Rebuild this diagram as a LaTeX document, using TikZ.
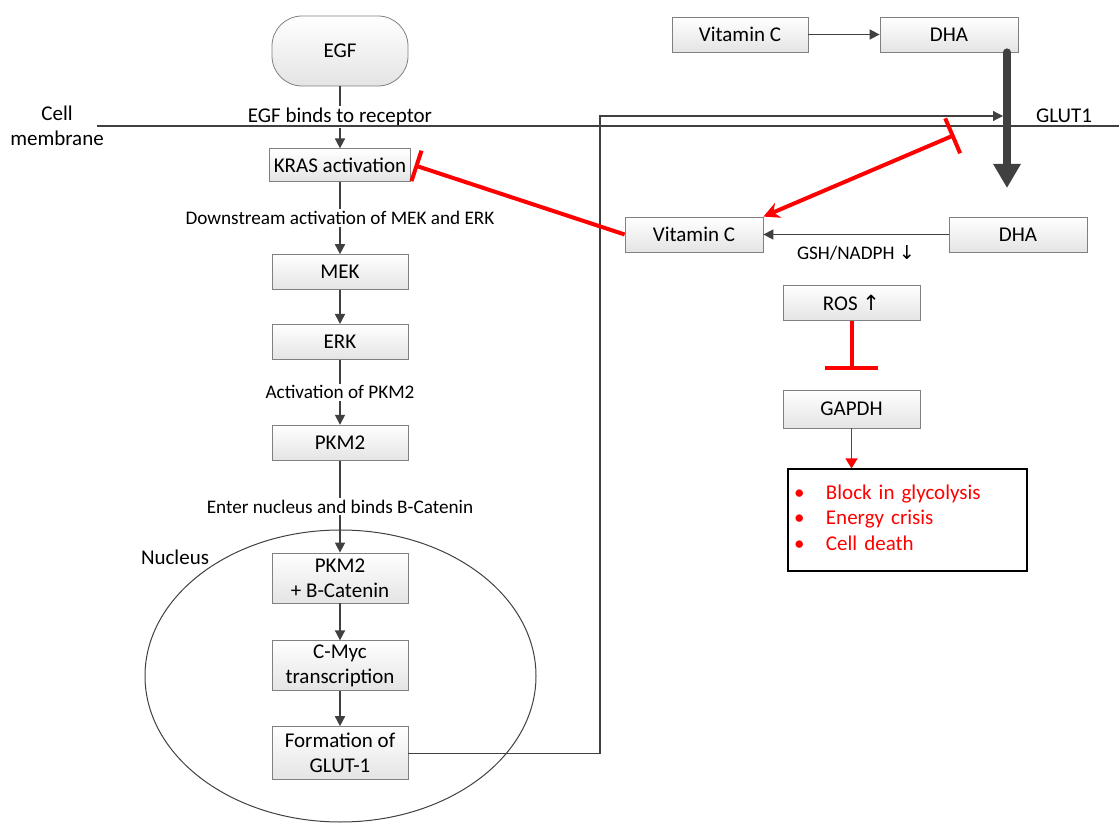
\documentclass[tikz,border=0pt]{standalone}
\usepackage{fontspec}
\setmainfont{Carlito}
\newfontfamily\arrowfont{DejaVu Sans}
\usetikzlibrary{positioning, arrows.meta}
\definecolor{boxEdge}{RGB}{128,128,128}
\definecolor{boxShade}{RGB}{228,228,228}
\definecolor{lineGray}{RGB}{64,64,64}

\begin{document}
\begin{tikzpicture}[
                x=0.5pt, y=0.5pt,
                font=\fontsize{10.5}{12.5}\selectfont,
                box/.style={rectangle, draw=boxEdge, top color=white, bottom color=boxShade, minimum width=68pt, minimum height=17.5pt, inner sep=2pt, align=center},
                tallbox/.style={box, minimum height=25pt, inner ysep=1pt},
                effects/.style={rectangle, draw=black, fill=white, line width=0.6pt, text width=113.5pt, inner xsep=3pt, minimum height=51pt, align=left, text=red},
                arrow/.style={-{Triangle[length=5pt,width=5pt]}, draw=lineGray, line width=0.8pt},
                thinarrow/.style={-{Triangle[length=5pt,width=5pt]}, draw=lineGray, line width=0.6pt},
                bigarrow/.style={-{Triangle[length=12pt,width=13pt]}, draw=lineGray, line width=4pt, line cap=round},
                redarrow/.style={-{Triangle[length=5pt,width=6pt]}, draw=red, line width=0.8pt},
                inhibit/.style={draw=red, line width=2pt},
                lbl/.style={fill=white, inner sep=1pt, font=\fontsize{9.6}{11.5}\selectfont},
                membrane/.style={draw=lineGray, line width=1pt}
            ]
                \useasboundingbox (0,0) rectangle (1119,-823);

                % --- NUCLEUS ---
                \draw[draw=lineGray, line width=0.5pt] (340.5,-676) ellipse [x radius=97.75pt, y radius=73pt];
                \node (nucleuslbl) at (175,-557) {Nucleus};

                % --- SIGNALLING CHAIN (LEFT) ---
                \node[box, rounded corners=15pt, minimum height=35pt] (egf) at (340,-51) {EGF};
                \node[box, minimum width=70pt, minimum height=16.5pt, below=31pt of egf] (kras) {KRAS activation};
                \node[box, below=36pt of kras] (mek) {MEK};
                \node[box, below=17pt of mek] (erk) {ERK};
                \node[box, below=32.5pt of erk] (pkm) {PKM2};
                \node[tallbox, below=46pt of pkm] (pkmcat) {PKM2\\+ B-Catenin};
                \node[tallbox, below=18.5pt of pkmcat] (cmyc) {C-Myc\\transcription};
                \node[tallbox, minimum height=26.5pt, below=17.5pt of cmyc] (glutform) {Formation of\\GLUT-1};

                % Arrows for chain
                \draw[arrow] (egf) -- node[lbl, font=\fontsize{10.5}{12.5}\selectfont] {EGF binds to receptor} (kras);
                \draw[arrow] (kras) -- node[lbl] {Downstream activation of MEK and ERK} (mek);
                \draw[arrow] (mek) -- (erk);
                \draw[arrow] (erk) -- node[lbl] {Activation of PKM2} (pkm);
                \draw[arrow] (pkm) -- node[lbl] {Enter nucleus and binds B-Catenin} (pkmcat);
                \draw[arrow] (pkmcat) -- (cmyc);
                \draw[arrow] (cmyc) -- (glutform);

                % --- CELL MEMBRANE ---
                \draw[membrane] (97,-126) -- (1119,-126);
                \node[align=center] (cellmem) at (57,-126) {Cell\\membrane};
                \node (glutlbl) at (1064,-116) {GLUT1};

                % --- VITAMIN C / DHA (RIGHT) ---
                \node[box] (vitctop) at (740,-34.5) {Vitamin C};
                \node[box, minimum width=69pt] (dhatop) at (949,-34.5) {DHA};
                \node[box, minimum width=69pt] (vitc) at (694,-234.5) {Vitamin C};
                \node[box, minimum width=69pt] (dha) at (1018,-234.5) {DHA};
                \node[box, minimum width=68.5pt] (ros) at (851.5,-303) {ROS {\arrowfont↑}};
                \node[box, minimum width=68.5pt, minimum height=19pt] (gapdh) at (851.5,-409) {GAPDH};
                \node[effects] (effect) at (907.5,-520) {%
                  \begin{tabular}{@{}l@{}l@{}}
                    \makebox[16pt][l]{\textbullet} & Block in glycolysis\\[0.3pt]
                    \makebox[16pt][l]{\textbullet} & Energy crisis\\[0.3pt]
                    \makebox[16pt][l]{\textbullet} & Cell death
                  \end{tabular}};

                \coordinate (glut) at (1007,-188);
                \coordinate (glutin) at (1003,-116);
                \coordinate (bend) at (600,-116);
                \coordinate (vcblock) at (954.5,-135);

                % Arrows for right side
                \draw[arrow] (vitctop) -- (dhatop);
                \draw[bigarrow] (dhatop.south -| glut) -- (glut);
                \draw[thinarrow] (glutform.east) -| (bend) -- (glutin);
                \draw[arrow] (dha) -- node[below=2pt, font=\fontsize{9.6}{11.5}\selectfont] {GSH/NADPH {\arrowfont↓}} (vitc);
                \draw[inhibit, -{Bar[width=16pt]}] (vitc.west) -- ([xshift=2pt]kras.east);
                \draw[inhibit, {Bar[width=19pt]}-{Stealth[length=8pt,width=8pt]}] (vcblock) -- (vitc.north east);
                \draw[inhibit, -{Bar[width=26.5pt]}, shorten >=10pt] (ros) -- (gapdh);
                \draw[redarrow] (gapdh.south) -- (gapdh.south |- effect.north);

            \end{tikzpicture}
\end{document}
